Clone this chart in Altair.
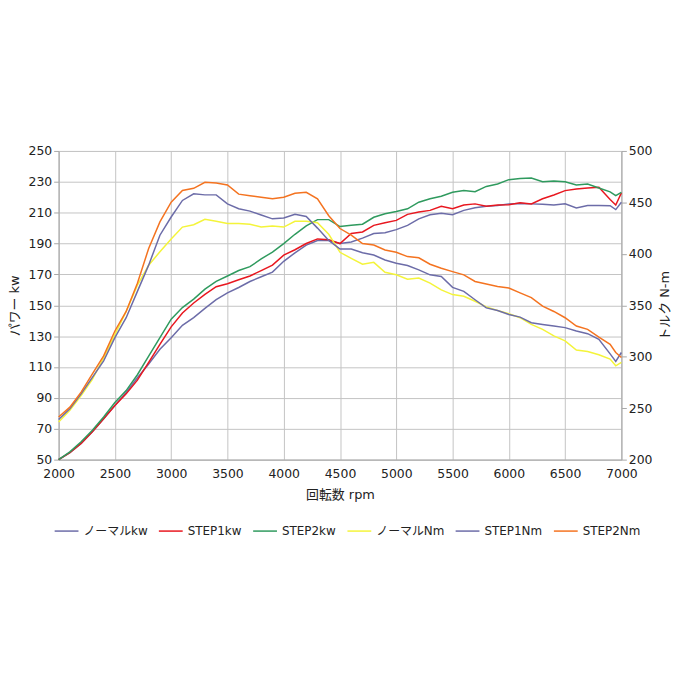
import altair as alt
import pandas as pd

rpm = [2000, 2100, 2200, 2300, 2400, 2500, 2600, 2700, 2800, 2900,
       3000, 3100, 3200, 3300, 3400, 3500, 3600, 3700, 3800, 3900,
       4000, 4100, 4200, 4300, 4400, 4500, 4600, 4700, 4800, 4900,
       5000, 5100, 5200, 5300, 5400, 5500, 5600, 5700, 5800, 5900,
       6000, 6100, 6200, 6300, 6400, 6500, 6600, 6700, 6800, 6900,
       6950, 7000]

normal_kw = [50, 54.5, 60.5, 68, 76.5, 85, 93.5, 103, 112, 121.5,
             129, 137, 142, 148, 153.6, 158, 161.5, 165.4, 168.5, 171.5,
             178.5, 184, 189, 192, 192, 190, 191, 193.5, 196.5, 197,
             199, 201.8, 206, 208.7, 209.7, 208.7, 211.5, 213.2, 214.2, 214.7,
             215.7, 216, 215.7, 215.5, 215, 215.7, 213, 214.7, 214.7, 214.5,
             212, 216.8]

step1_kw = [50, 54.5, 60.5, 68, 76.5, 85, 92.6, 101.5, 113, 124.7,
            136, 145, 151.5, 157, 162, 164, 166.5, 169, 172.5, 176,
            182.5, 186, 190, 193, 192.5, 190, 196.5, 197.5, 201.8, 203.5,
            205, 208.9, 210.4, 211.5, 214.2, 212.5, 215, 215.7, 214.2, 215,
            215.2, 216.4, 215.7, 219, 221.5, 224.3, 225.4, 226, 226.4, 218.5,
            215, 222.8]

step2_kw = [50, 55, 61.6, 69, 77.6, 87, 94.7, 105, 117, 129,
            141, 148.5, 154, 160.5, 165.5, 169, 172.5, 175, 180, 184.5,
            190, 196, 201.5, 205.5, 205.5, 201, 201.8, 202.5, 207, 209.3,
            210.8, 212.5, 216.8, 219, 220.7, 223.2, 224.3, 223.6, 227, 228.6,
            231.4, 232.2, 232.5, 230, 230.5, 230, 228, 228.5, 226, 223.5,
            221, 223.2]

normal_nm = [236.6, 248, 262.3, 278, 299, 321.5, 344, 369.5, 389, 402,
             414.5, 426, 428.3, 433.6, 431.6, 429.5, 429.5, 428.8, 426, 427.1,
             426, 431.6, 431.6, 430.3, 419, 401.5, 395.6, 389.9, 391.7, 382.1,
             379.6, 375.4, 376.4, 371.5, 365, 360.4, 358.7, 353.9, 348.4, 344.9,
             341.8, 337.9, 331.4, 326.6, 320.2, 315.4, 306.5, 305, 301.9, 297.7,
             291.2, 294.5]

step1_nm = [239, 249.5, 263.9, 280, 296, 318.5, 337.9, 363.5, 389, 418.1,
            435.8, 451.9, 458.3, 457.3, 457.3, 448.6, 443.8, 441.5, 437.8, 434,
            434.8, 438.5, 436.3, 425, 413, 404.6, 404.6, 401, 398.8, 394,
            390.8, 388.6, 384.4, 379.6, 377.9, 367.4, 363.5, 355.4, 347.5, 344.9,
            341, 338.5, 333.1, 331.4, 329.8, 328.3, 325, 322.4, 317, 302.8,
            295.4, 304.1]

step2_nm = [241.4, 251, 265.6, 283.3, 300.8, 325, 344, 371.5, 405.2, 431,
            450.2, 461.5, 463.7, 469.6, 468.8, 467, 458, 456.5, 455, 453.5,
            455, 458.9, 459.8, 453.5, 437, 424.6, 418.1, 410, 408.5, 403.7,
            401.5, 397.3, 396.2, 389.9, 386, 382.7, 379.6, 373.1, 370.6, 368.3,
            366.7, 362, 357.5, 349.1, 344, 337.9, 329.8, 326.6, 319.1, 312.1,
            304.1, 299.3]

series_names = ["ノーマルkw", "STEP1kw", "STEP2kw", "ノーマルNm", "STEP1Nm", "STEP2Nm"]
series_colors = ["#6c6ca8", "#e8171f", "#2f9a5e", "#f4f43a", "#6c6ca8", "#f47320"]

kw_ticks = [50, 70, 90, 110, 130, 150, 170, 190, 210, 230, 250]
nm_ticks = [200, 250, 300, 350, 400, 450, 500]
rpm_ticks = [2000, 2500, 3000, 3500, 4000, 4500, 5000, 5500, 6000, 6500, 7000]

power_rows = []
for name, vals in zip(series_names[:3], [normal_kw, step1_kw, step2_kw]):
    for r, v in zip(rpm, vals):
        power_rows.append({"rpm": r, "value": v, "series": name})
torque_rows = []
for name, vals in zip(series_names[3:], [normal_nm, step1_nm, step2_nm]):
    for r, v in zip(rpm, vals):
        torque_rows.append({"rpm": r, "value": v, "series": name})

power_df = pd.DataFrame(power_rows)
torque_df = pd.DataFrame(torque_rows)

FONT = "DejaVu Sans, Noto Sans CJK JP"
GRID = "#c4c4c4"
DOMAIN = "#a8a8a8"

x_enc = alt.X("rpm:Q",
              scale=alt.Scale(domain=[2000, 7000], nice=False, zero=False),
              axis=alt.Axis(values=rpm_ticks, title="回転数 rpm", grid=True,
                            gridColor=GRID, domainColor=DOMAIN, ticks=False,
                            labelFlush=False, labelOverlap=False,
                            labelPadding=8, labelFontSize=12.5, labelFont=FONT,
                            labelColor="#222222", titleFont=FONT, titleFontSize=13,
                            titleFontWeight="normal", titleColor="#222222",
                            titlePadding=9, format="d"))

color_enc = alt.Color("series:N",
                      scale=alt.Scale(domain=series_names, range=series_colors),
                      sort=series_names,
                      legend=alt.Legend(title="", orient="none", legendX=-5, legendY=370,
                                        direction="horizontal", columns=6,
                                        symbolType="stroke", symbolSize=576,
                                        symbolStrokeWidth=1.5, labelFont=FONT,
                                        labelFontSize=12, labelColor="#222222",
                                        columnPadding=8, labelOffset=4))

power = alt.Chart(power_df).mark_line(strokeWidth=1.5).encode(
    x=x_enc,
    y=alt.Y("value:Q",
            scale=alt.Scale(domain=[50, 250], nice=False, zero=False),
            axis=alt.Axis(values=kw_ticks, title="パワー kw", orient="left", grid=True,
                          gridColor=GRID, domainColor=DOMAIN, tickColor=DOMAIN,
                          tickSize=5, labelPadding=2, labelFontSize=12.5, labelFont=FONT,
                          labelColor="#222222", titleFont=FONT, titleFontSize=13,
                          titleFontWeight="normal", titleColor="#222222",
                          titlePadding=7)),
    color=color_enc,
)

torque = alt.Chart(torque_df).mark_line(strokeWidth=1.5).encode(
    x=x_enc,
    y=alt.Y("value:Q",
            scale=alt.Scale(domain=[200, 500], nice=False, zero=False),
            axis=alt.Axis(values=nm_ticks, title="トルク N-m", orient="right", grid=False,
                          domainColor=DOMAIN, tickColor=DOMAIN, tickSize=5,
                          labelPadding=2, labelFontSize=12.5, labelFont=FONT,
                          labelColor="#222222", titleFont=FONT, titleFontSize=13,
                          titleFontWeight="normal", titleColor="#222222",
                          titleAngle=270, titleBaseline="top", titlePadding=7)),
    color=color_enc,
)

chart = alt.layer(power, torque).resolve_scale(y="independent").properties(
    width=567, height=311,
    padding={"top": 136, "left": 0, "right": 0, "bottom": 5},
).configure_view(stroke=DOMAIN).configure(background="white")

chart.save("out.html", embed_options={"renderer": "svg", "actions": False})
